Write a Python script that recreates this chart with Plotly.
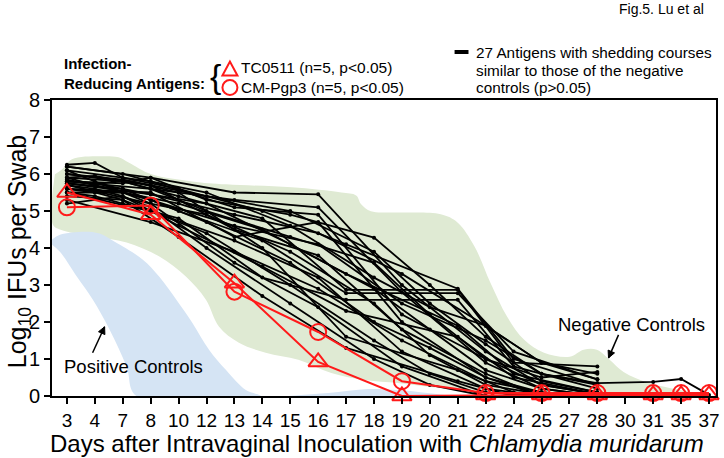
import plotly.graph_objects as go

# ---------------- data ----------------
days = [3, 4, 7, 8, 10, 12, 13, 14, 15, 16, 17, 18, 19, 20, 21, 22, 24, 25, 27, 28, 30, 31, 35, 37]
day_labels = [str(d) for d in days]

# Infection-reducing antigens
tc_days = [3, 8, 13, 16, 19, 22, 25, 28, 31, 35, 37]
tc0511 = [5.5, 4.9, 3.05, 0.92, 0.0, 0.03, 0.03, 0.03, 0.03, 0.03, 0.03]
pgp_days = [3, 8, 13, 16, 19, 22, 25, 28, 31, 35, 37]
cm_pgp3 = [5.1, 5.15, 2.82, 1.73, 0.4, 0.08, 0.08, 0.08, 0.08, 0.08, 0.08]

# 27 antigens similar to negative controls (three sampling schedules)
group_a_days = [3, 8, 13, 16, 19, 22, 25, 28]
group_a = [
    [6.2, 5.9, 5.5, 5.45, 3.0, 1.2, 0.3, 0.05],
    [5.8, 5.6, 5.3, 5.1, 2.8, 0.9, 0.2, 0.0],
    [5.6, 5.5, 4.3, 4.7, 2.0, 0.5, 0.1, 0.0],
    [5.9, 5.3, 4.6, 4.1, 2.5, 1.5, 0.6, 0.3],
    [5.5, 5.0, 4.2, 3.2, 1.2, 0.2, 0.0, 0.0],
    [6.0, 5.7, 4.5, 3.8, 1.8, 0.6, 0.0, 0.0],
    [5.7, 5.2, 3.6, 2.4, 0.8, 0.0, 0.0, 0.0],
    [5.3, 4.7, 3.9, 2.9, 1.5, 0.4, 0.1, 0.0],
    [5.75, 5.45, 4.9, 4.4, 3.3, 1.9, 0.9, 0.45],
    [6.1, 5.8, 5.1, 4.9, 2.2, 1.0, 0.5, 0.65],
]
group_b_days = [3, 4, 7, 10, 14, 17, 21, 24, 28]
group_b = [
    [6.25, 6.3, 5.9, 5.6, 5.0, 4.1, 2.9, 1.0, 0.3],
    [5.9, 5.95, 5.8, 5.4, 4.8, 2.87, 2.87, 0.9, 0.8],
    [5.8, 5.75, 5.6, 5.0, 4.2, 2.78, 2.78, 1.2, 0.45],
    [5.7, 5.6, 5.4, 4.6, 3.5, 2.3, 1.6, 0.5, 0.05],
    [6.1, 5.8, 5.5, 5.2, 4.5, 3.3, 1.9, 0.6, 0.1],
    [5.5, 5.4, 5.2, 4.8, 3.2, 2.6, 2.6, 0.8, 0.2],
    [5.85, 5.7, 5.85, 5.5, 4.0, 1.6, 0.7, 0.1, 0.0],
    [5.6, 5.5, 5.3, 4.3, 2.7, 1.3, 0.4, 0.0, 0.0],
]
group_c_days = [3, 7, 8, 12, 15, 18, 20, 22, 25, 28, 31, 35, 37]
group_c = [
    [5.8, 5.75, 5.9, 5.3, 4.9, 4.28, 3.0, 1.6, 0.6, 0.35, 0.38, 0.46, 0.03],
    [5.9, 5.8, 5.6, 5.0, 4.3, 3.6, 2.2, 1.0, 0.3, 0.05, None, None, None],
    [5.6, 5.5, 5.3, 4.7, 3.6, 2.0, 1.3, 0.5, 0.0, 0.0, None, None, None],
    [6.0, 5.85, 5.7, 5.4, 5.0, 3.9, 2.5, 1.4, 0.4, 0.1, None, None, None],
    [5.4, 5.3, 5.0, 4.4, 3.0, 1.5, 0.6, 0.1, 0.0, 0.0, None, None, None],
    [5.75, 5.6, 5.45, 5.2, 4.1, 2.9, 1.8, 0.7, 0.2, 0.0, None, None, None],
    [5.2, 5.4, 5.1, 4.0, 2.5, 1.0, 0.3, 0.0, 0.0, 0.0, None, None, None],
    [6.2, 6.0, 5.8, 5.5, 4.6, 3.2, 2.4, 1.9, 0.9, 0.6, None, None, None],
    [5.5, 5.5, 5.2, 4.9, 3.9, 2.5, 1.1, 0.3, 0.05, 0.0, None, None, None],
]

# Control regions (x in day-index units, y in log10 IFUs)
neg_x = [-0.43, -0.18, 0.18, 1.17, 1.85, 2.21, 3.03, 4.49, 5.70, 8.05, 9.83, 10.36, 10.54, 10.89,
         11.85, 13.39, 13.99, 14.60, 15.17, 15.77, 16.38, 17.09, 18.01, 18.51, 18.98, 19.44,
         19.94, 20.86, 22.29, 22.96,
         18.98, 14.24, 13.03, 11.85, 10.68, 9.47, 8.29, 7.12, 6.16, 5.45, 4.98, 4.27, 3.31,
         2.14, 0.93, -0.25, -0.50, -0.50]
neg_y = [5.99, 6.12, 6.40, 6.48, 6.45, 6.31, 5.99, 5.80, 5.72, 5.64, 5.50, 5.42, 5.18, 4.99,
         4.96, 4.91, 4.69, 4.04, 3.06, 2.14, 1.52, 1.17, 1.06, 1.25, 1.25, 0.98,
         0.65, 0.35, 0.11, 0.0,
         0.0, 0.16, 0.24, 0.35, 0.43, 0.62, 0.98, 1.17, 1.44, 1.87, 2.60, 3.22, 3.77,
         4.15, 4.31, 4.50, 4.63, 5.60]
pos_x = [-0.53, -0.25, 0.64, 1.17, 1.71, 2.71, 3.31, 3.92, 4.49, 5.09, 5.70, 6.41, 6.94,
         2.49, 2.14, 1.53, 0.93, 0.36, -0.25, -0.53]
pos_y = [4.23, 4.36, 4.44, 4.39, 4.17, 3.69, 3.22, 2.60, 1.98, 1.25, 0.70, 0.16, 0.0,
         0.0, 0.79, 1.79, 2.60, 3.22, 3.90, 4.09]
pos2_x = [7.94, 9.36, 10.79, 11.85, 12.92, 13.81]
pos2_y = [0.0, 0.08, 0.19, 0.16, 0.08, 0.0]

# ---------------- figure ----------------
idx = {d: i for i, d in enumerate(days)}
FONT = "Liberation Sans, Arial, sans-serif"
GREEN = "#dfead3"
BLUE = "#d5e4f4"
RED = "#ff1a1a"

fig = go.Figure()

fig.add_trace(go.Scatter(x=neg_x, y=neg_y, fill="toself", fillcolor=GREEN, mode="none",
                         line_shape="spline", hoverinfo="skip", showlegend=False))
fig.add_trace(go.Scatter(x=pos_x, y=pos_y, fill="toself", fillcolor=BLUE, mode="none",
                         line_shape="spline", hoverinfo="skip", showlegend=False))
fig.add_trace(go.Scatter(x=pos2_x, y=pos2_y, fill="toself", fillcolor=BLUE, mode="none",
                         line_shape="spline", hoverinfo="skip", showlegend=False))

for dlist, group in [(group_a_days, group_a), (group_b_days, group_b), (group_c_days, group_c)]:
    xs = [idx[d] for d in dlist]
    for vals in group:
        fig.add_trace(go.Scatter(x=xs, y=vals, mode="lines+markers",
                                 line=dict(color="black", width=1.8),
                                 marker=dict(color="black", size=4),
                                 connectgaps=False, cliponaxis=False, showlegend=False))

fig.add_trace(go.Scatter(x=[idx[d] for d in pgp_days], y=cm_pgp3, mode="lines+markers",
                         line=dict(color=RED, width=2),
                         marker=dict(symbol="circle-open", size=16, color=RED,
                                     line=dict(width=2, color=RED)),
                         cliponaxis=False, showlegend=False))
fig.add_trace(go.Scatter(x=[idx[d] for d in tc_days], y=tc0511, mode="lines+markers",
                         line=dict(color=RED, width=2),
                         marker=dict(symbol="triangle-up-open", size=17, color=RED,
                                     line=dict(width=2, color=RED)),
                         cliponaxis=False, showlegend=False))

L, R, T, B = 52, 4, 100, 62
W, H = 724, 458
PW, PH = W - L - R, H - T - B


def px(x):
    return (x - L) / PW


def py(y):
    return (H - B - y) / PH


ann = []


def text(s, x, y, size=15, xanchor="left", bold=False, color="black"):
    if bold:
        s = "<b>" + s + "</b>"
    ann.append(dict(text=s, x=px(x), y=py(y), xref="paper", yref="paper", showarrow=False,
                    xanchor=xanchor, yanchor="middle", font=dict(family=FONT, size=size, color=color)))


text("Fig.5. Lu et al", 710, 9, size=14, xanchor="right")
text("Infection-", 62, 63, size=15, bold=True)
text("Reducing Antigens:", 62, 83, size=15, bold=True)
text("{", 216, 76, size=34, xanchor="center")
text("TC0511 (n=5, p<0.05)", 240, 67, size=15.5)
text("CM-Pgp3 (n=5, p<0.05)", 240, 87, size=15.5)
text("27 Antigens with shedding courses", 477, 52, size=15.3)
text("similar to those of the negative", 477, 70, size=15.3)
text("controls (p>0.05)", 477, 88, size=15.3)

# axis titles
ann.append(dict(text="Log<sub>10</sub> IFUs per Swab", x=px(19), y=py(252), xref="paper", yref="paper",
                showarrow=False, textangle=-90, xanchor="center", yanchor="middle",
                font=dict(family=FONT, size=25, color="black")))
ann.append(dict(text="Days after Intravaginal Inoculation with <i>Chlamydia muridarum</i>",
                x=px(379), y=py(443), xref="paper", yref="paper", showarrow=False,
                xanchor="center", yanchor="middle", font=dict(family=FONT, size=24, color="black")))

# region labels
ann.append(dict(text="Positive Controls", x=2.37, y=0.81, xref="x", yref="y", showarrow=False,
                font=dict(family=FONT, size=18.5, color="black")))
ann.append(dict(text="Negative Controls", x=20.22, y=1.92, xref="x", yref="y", showarrow=False,
                font=dict(family=FONT, size=18.5, color="black")))


def arrow(x, y, tail, head):
    """Arrow drawn as shapes anchored at the tip (x, y) in data units, offsets in pixels."""
    return [
        dict(type="line", xref="x", yref="y", xsizemode="pixel", ysizemode="pixel",
             xanchor=x, yanchor=y, x0=tail[0], y0=tail[1], x1=0, y1=0,
             line=dict(color="black", width=1.5)),
        dict(type="path", xref="x", yref="y", xsizemode="pixel", ysizemode="pixel",
             xanchor=x, yanchor=y, path=head, fillcolor="black",
             line=dict(color="black", width=1)),
    ]


shapes = [
    dict(type="rect", xref="paper", yref="paper", x0=px(457), x1=px(471), y0=py(54), y1=py(50),
         fillcolor="black", line=dict(width=0)),
    dict(type="circle", xref="paper", yref="paper", xsizemode="pixel", ysizemode="pixel",
         xanchor=px(231), yanchor=py(87.5), x0=-7.5, x1=7.5, y0=-7.5, y1=7.5,
         line=dict(color=RED, width=2)),
    dict(type="path", xref="paper", yref="paper", xsizemode="pixel", ysizemode="pixel",
         xanchor=px(231), yanchor=py(69), path="M -7.5,-6.5 L 7.5,-6.5 L 0,7.5 Z",
         line=dict(color=RED, width=2)),
]
shapes += arrow(1.35, 1.87, (-12, -26), "M 0,0 L -6.1,-4.9 L 0.3,-7.8 Z")
shapes += arrow(19.40, 1.03, (10, 23), "M 0,0 L 6.0,5.0 L -0.4,7.8 Z")

fig.update_layout(
    width=W, height=H, margin=dict(l=L, r=R, t=T, b=B),
    paper_bgcolor="white", plot_bgcolor="white",
    font=dict(family=FONT, color="black"),
    annotations=ann, shapes=shapes, showlegend=False,
)
fig.update_xaxes(range=[-0.534, 23.25], tickmode="array", tickvals=list(range(len(days))),
                 ticktext=day_labels, ticks="outside", ticklen=6, tickwidth=1.5, tickcolor="black",
                 showline=True, linecolor="black", linewidth=2, mirror=True, showgrid=False,
                 zeroline=False, tickfont=dict(family=FONT, size=19))
fig.update_yaxes(range=[0, 8], tickmode="array", tickvals=list(range(9)), ticks="outside",
                 ticklen=6, tickwidth=1.5, tickcolor="black", showline=True, linecolor="black",
                 linewidth=2, mirror=True, showgrid=False, zeroline=False,
                 tickfont=dict(family=FONT, size=20))

fig.write_html("out.html", config={"displayModeBar": False},
               post_script="document.body.style.margin='0';document.body.style.overflow='hidden';")
